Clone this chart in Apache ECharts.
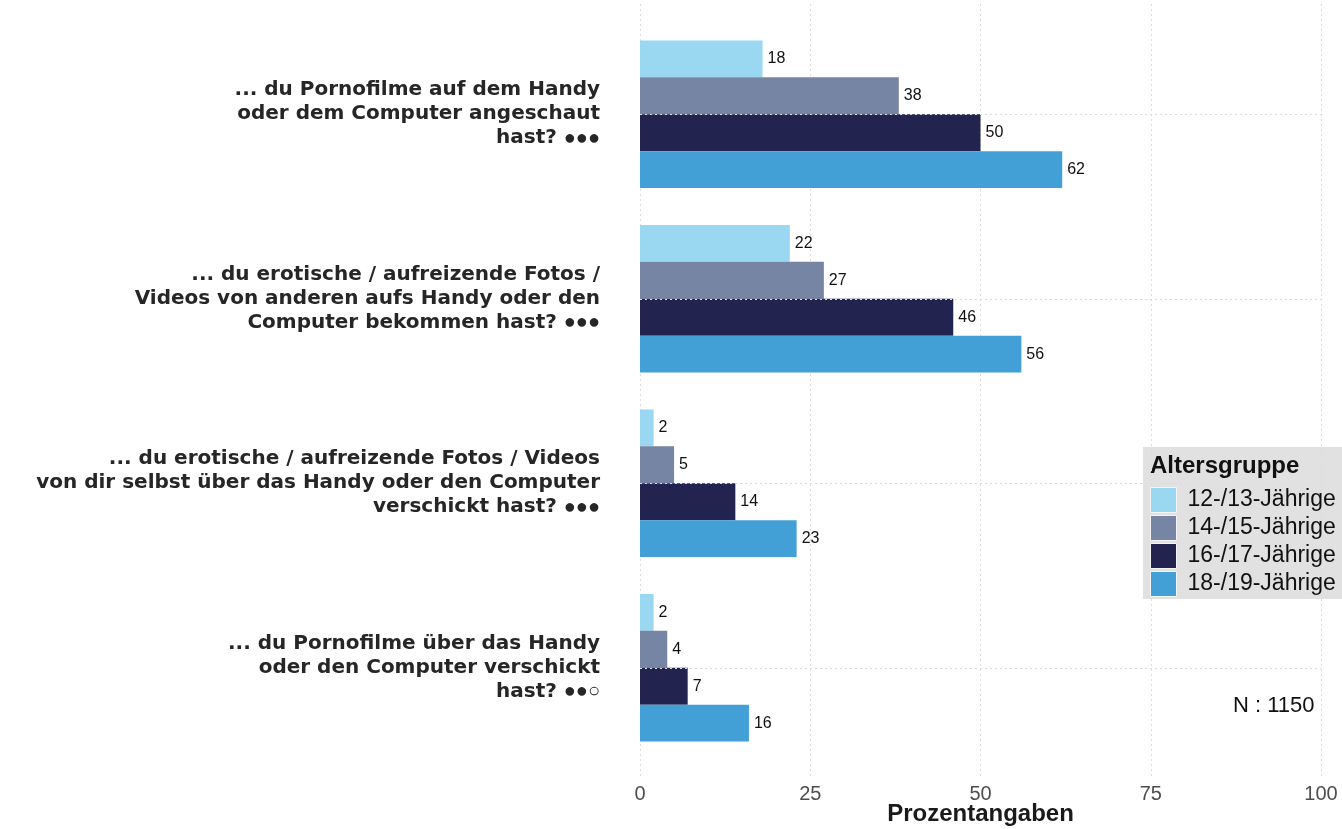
<!DOCTYPE html>
<html>
<head>
<meta charset="utf-8">
<script src="https://cdn.jsdelivr.net/npm/echarts@6/dist/echarts.min.js"></script>
<style>
  html, body { margin: 0; padding: 0; background: #fff; }
  #chart { width: 1342px; height: 829px; }
</style>
</head>
<body>
<div id="chart"></div>
<script>
var categories = [
    '... du Pornofilme auf dem Handy\noder dem Computer angeschaut\nhast? ●●●',
    '... du erotische / aufreizende Fotos /\nVideos von anderen aufs Handy oder den\nComputer bekommen hast? ●●●',
    '... du erotische / aufreizende Fotos / Videos\nvon dir selbst über das Handy oder den Computer\nverschickt hast? ●●●',
    '... du Pornofilme über das Handy\noder den Computer verschickt\nhast? ●●○'
];
var groups = ['12-/13-Jährige', '14-/15-Jährige', '16-/17-Jährige', '18-/19-Jährige'];
var colors = ['#9ad8f2', '#7585a3', '#23234f', '#43a0d6'];
var values_12_13 = [18, 22, 2, 2];
var values_14_15 = [38, 27, 5, 4];
var values_16_17 = [50, 46, 14, 7];
var values_18_19 = [62, 56, 23, 16];
var xTicks = [0, 25, 50, 75, 100];

var allValues = [values_12_13, values_14_15, values_16_17, values_18_19];
var gridStyle = { color: '#dcdcdc', type: [2, 3], width: 1 };

var chart = echarts.init(document.getElementById('chart'));

var series = groups.map(function(name, i){
    return {
        name: name,
        type: 'bar',
        data: allValues[i],
        barGap: '0%',
        barCategoryGap: '20%',
        z: 3,
        itemStyle: { color: colors[i] },
        label: {
            show: true,
            position: 'right',
            distance: 5,
            color: '#111',
            fontSize: 16,
            fontFamily: 'Liberation Sans, Arial, sans-serif'
        }
    }
})

// horizontal dotted grid lines at the category centres
series.push({
    name: 'grid',
    type: 'line',
    data: [],
    z: 1,
    markLine: {
        silent: true,
        symbol: 'none',
        label: { show: false },
        lineStyle: gridStyle,
        data: categories.map(function(c){ return { yAxis: c } })
    }
})

var option = {
    animation: false,
    textStyle: { fontFamily: 'Liberation Sans, Arial, sans-serif' },
    grid: [
        { left: 640, right: 21, top: 22, bottom: 69, containLabel: false, outerBoundsMode: 'none' },
        // only there to draw the vertical grid lines a bit longer than the bars area
        { left: 640, right: 21, top: 4, bottom: 52, containLabel: false, outerBoundsMode: 'none' }
    ],
    xAxis: [{
        type: 'value',
        min: 0,
        max: 100,
        interval: 25,
        axisLine: { show: false },
        axisTick: { show: false },
        axisLabel: {
            color: '#4d4d4d',
            fontSize: 20,
            margin: 24,
            formatter: function(v){ return xTicks.indexOf(v) >= 0 ? String(v) : '' }
        },
        splitLine: { show: false },
        name: 'Prozentangaben',
        nameLocation: 'middle',
        nameGap: 42,
        nameMoveOverlap: false,
        nameTextStyle: {
            color: '#1a1a1a',
            fontSize: 24,
            fontWeight: 'bold'
        }
    }, {
        gridIndex: 1,
        type: 'value',
        min: 0,
        max: 100,
        interval: 25,
        axisLine: { show: false },
        axisTick: { show: false },
        axisLabel: { show: false },
        splitLine: { show: true, lineStyle: gridStyle }
    }],
    yAxis: [{
        type: 'category',
        data: categories,
        inverse: true,
        axisLine: { show: false },
        axisTick: { show: false },
        splitLine: { show: false },
        axisLabel: {
            color: '#262626',
            fontSize: 20,
            fontWeight: 'bold',
            fontFamily: 'DejaVu Sans, sans-serif',
            lineHeight: 24,
            align: 'right',
            margin: 40,
            formatter: function(v){
                return v.replace(/([●○]+)/, '{d|$1}')
            },
            rich: {
                d: {
                    fontFamily: 'Liberation Sans, Arial, sans-serif',
                    fontSize: 20,
                    fontWeight: 'bold',
                    color: '#262626',
                    lineHeight: 24
                }
            }
        }
    }, {
        gridIndex: 1,
        type: 'value',
        min: 0,
        max: 1,
        show: false,
        splitLine: { show: false }
    }],
    legend: {
        data: groups,
        orient: 'vertical',
        left: 1145,
        top: 482,
        itemWidth: 26,
        itemHeight: 25,
        itemGap: 2,
        icon: 'rect',
        selectedMode: false,
        itemStyle: { borderColor: '#f4f4f4', borderWidth: 1 },
        textStyle: { fontSize: 23, color: '#111', padding: [0, 0, 0, 6] }
    },
    graphic: [
        {
            type: 'rect',
            left: 1143,
            top: 447,
            shape: { width: 199, height: 152 },
            style: { fill: '#e1e1e1' },
            z: -1
        },
        {
            type: 'text',
            left: 1150,
            top: 454,
            style: { text: 'Altersgruppe', fontSize: 24, fontWeight: 'bold', fill: '#111', fontFamily: 'Liberation Sans, Arial, sans-serif' }
        },
        {
            type: 'text',
            left: 1233,
            top: 695,
            style: { text: 'N : 1150', fontSize: 22, fill: '#111', fontFamily: 'Liberation Sans, Arial, sans-serif' }
        }
    ],
    series: series
};

chart.setOption(option);
</script>
</body>
</html>
